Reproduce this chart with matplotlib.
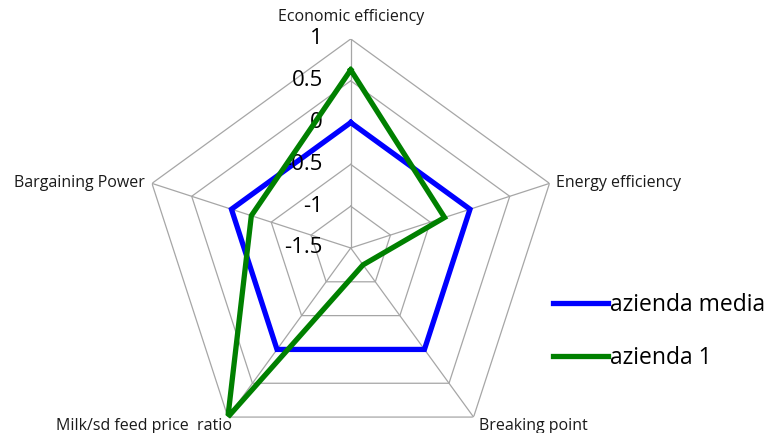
import numpy as np
from matplotlib import pyplot as plt

categories = ["Economic efficiency", "Energy efficiency", "Breaking point",
              "Milk/sd feed price  ratio", "Bargaining Power"]
azienda_media = [0, 0, 0, 0, 0]
azienda_1 = [0.63, -0.32, -1.25, 1.0, -0.25]
rings = [-1.5, -1, -0.5, 0, 0.5, 1]
ring_labels = ["-1.5", "-1", "-0.5", "0", "0.5", "1"]

plt.rcParams['font.family'] = ['Open Sans', 'DejaVu Sans']

fig = plt.figure(figsize=(7.71, 4.33), dpi=100)
ax = fig.add_axes([0.1838, -0.0554, 0.5422, 0.9654], projection='polar')
ax.set_theta_offset(np.pi / 2)
ax.set_theta_direction(-1)
ax.set_ylim(-1.5, 1)
ax.grid(False)
ax.spines['polar'].set_visible(False)
ax.set_xticks([])
ax.set_yticks([])

n = len(categories)
angles = [2 * np.pi * i / n for i in range(n)]
closed = angles + angles[:1]

# pentagon grid
for r in rings[1:]:
    ax.plot(closed, [r] * (n + 1), color='#a6a6a6', lw=0.9, zorder=1)
for a in angles:
    ax.plot([a, a], [-1.5, 1], color='#a6a6a6', lw=0.9, zorder=1)

ax.plot(closed, azienda_media + azienda_media[:1], color='#0000ff', lw=3.8,
        solid_joinstyle='miter', label='azienda media', zorder=3)
ax.plot(closed, azienda_1 + azienda_1[:1], color='#008000', lw=3.8,
        solid_joinstyle='miter', label='azienda 1', zorder=4)

# value labels along the top spoke
for r, lab in zip(rings, ring_labels):
    ax.annotate(lab, xy=(0, r), xytext=(-20, 0), textcoords='offset points',
                ha='right', va='center', fontsize=16, color='black')

# category labels
offsets = [(0, 10), (5, 0), (4, -6.5), (3, -6.5), (-5, 0)]
aligns = [('center', 'bottom'), ('left', 'center'), ('left', 'center'),
          ('right', 'center'), ('right', 'center')]
for a, cat, off, (ha, va) in zip(angles, categories, offsets, aligns):
    ax.annotate(cat, xy=(a, 1), xytext=off, textcoords='offset points',
                ha=ha, va=va, fontsize=11.5, color='#1a1a1a')

fig.legend(loc='upper left', bbox_to_anchor=(0.717, 0.323), frameon=False,
           fontsize=16.5, handlelength=2.4, handletextpad=0.1, labelspacing=1.25,
           borderpad=0, borderaxespad=0)

plt.savefig("out.png", dpi=100)
